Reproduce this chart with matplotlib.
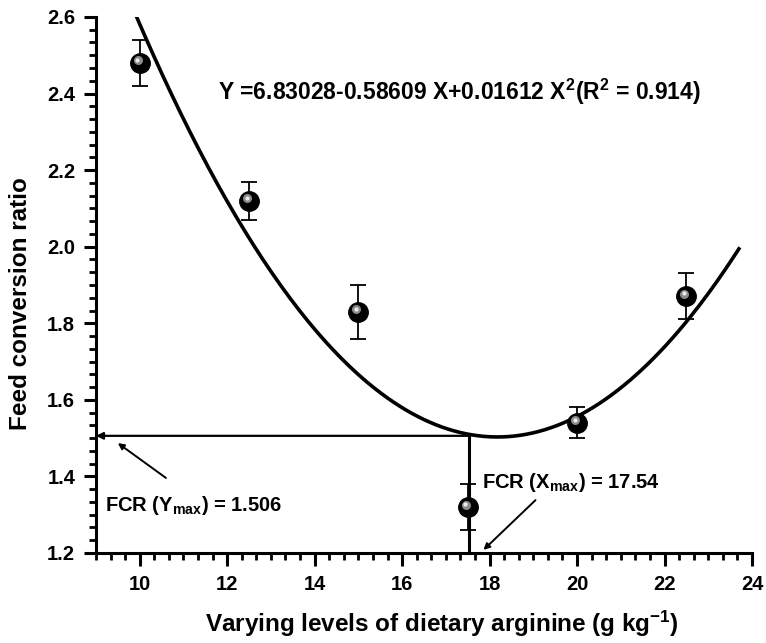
import numpy as np
import matplotlib
matplotlib.use("Agg")
import matplotlib.pyplot as plt
from matplotlib.ticker import MultipleLocator, AutoMinorLocator, FormatStrFormatter
import matplotlib.transforms as mtransforms

plt.rcParams['font.family'] = ['Liberation Sans', 'DejaVu Sans']
plt.rcParams['font.weight'] = 'bold'
plt.rcParams['mathtext.fontset'] = 'custom'
plt.rcParams['mathtext.rm'] = 'Liberation Sans:bold'
plt.rcParams['mathtext.it'] = 'Liberation Sans:bold'
plt.rcParams['mathtext.bf'] = 'Liberation Sans:bold'

# Data
arginine = [10, 12.5, 15, 17.5, 20, 22.5]
fcr = [2.48, 2.12, 1.83, 1.32, 1.54, 1.87]
fcr_err = [0.06, 0.05, 0.07, 0.06, 0.04, 0.06]
coef = [6.83028, -0.58609, 0.01612]   # regression Y = a + bX + cX^2
fit_range = [9.9, 23.7]
x_opt = 17.54
y_opt = 1.506
xticks = [10, 12, 14, 16, 18, 20, 22, 24]

fig = plt.figure(figsize=(7.66, 6.43), dpi=100)
ax = fig.add_axes([0.1253, 0.140, 0.8564, 0.8336])

xs = np.linspace(fit_range[0], fit_range[1], 200)
ys = coef[0] + coef[1] * xs + coef[2] * xs ** 2
ax.plot(xs, ys, color='black', lw=2.6, zorder=2)

ax.errorbar(arginine, fcr, yerr=fcr_err, fmt='none', ecolor='black',
            elinewidth=1.3, capsize=5.5, capthick=1.3, zorder=3)
ax.plot(arginine, fcr, 'o', ms=14, color='black', mec='black', zorder=4)
off1 = mtransforms.offset_copy(ax.transData, fig=fig, x=-2, y=2.5, units='dots')
ax.plot(arginine, fcr, 'o', ms=6.5, color='#8a8a8a', mec='none', zorder=5, transform=off1)
off2 = mtransforms.offset_copy(ax.transData, fig=fig, x=-2.5, y=3, units='dots')
ax.plot(arginine, fcr, 'o', ms=3, color='#ececec', mec='none', zorder=6, transform=off2)

# optimum lines
ax.annotate('', xy=(9.0, y_opt), xytext=(x_opt, y_opt),
            arrowprops=dict(arrowstyle='-|>', color='black', lw=1.6,
                            mutation_scale=10, shrinkA=0, shrinkB=0), zorder=2)
ax.plot([x_opt, x_opt], [y_opt, 1.2], color='black', lw=2.2, zorder=2)

# annotations
ax.annotate('', xy=(9.5, 1.487), xytext=(10.6, 1.396),
            arrowprops=dict(arrowstyle='-|>', color='black', lw=1.4,
                            mutation_scale=9, shrinkA=0, shrinkB=0))
ax.text(9.2, 1.325, 'FCR (Y$_{\\mathregular{max}}$) = 1.506', fontsize=14.5,
        fontweight='bold', va='center', ha='left')
ax.annotate('', xy=(17.86, 1.208), xytext=(19.05, 1.338),
            arrowprops=dict(arrowstyle='-|>', color='black', lw=1.4,
                            mutation_scale=9, shrinkA=0, shrinkB=0))
ax.text(17.83, 1.385, 'FCR (X$_{\\mathregular{max}}$) = 17.54', fontsize=14.5,
        fontweight='bold', va='center', ha='left')

ax.text(11.79, 2.404, 'Y =6.83028-0.58609 X+0.01612 X$^{2}$(R$^{2}$ = 0.914)',
        fontsize=16.5, fontweight='bold', va='center', ha='left')

ax.set_xlim(9, 24)
ax.set_ylim(1.2, 2.6)
ax.xaxis.set_minor_locator(AutoMinorLocator(6))
ax.yaxis.set_major_locator(MultipleLocator(0.2))
ax.yaxis.set_minor_locator(AutoMinorLocator(6))
ax.set_xticks(xticks)
ax.set_xticklabels([str(t) for t in xticks])
ax.xaxis.set_minor_locator(AutoMinorLocator(6))
ax.yaxis.set_major_formatter(FormatStrFormatter('%.1f'))

for s in ['top', 'right']:
    ax.spines[s].set_visible(False)
for s in ['left', 'bottom']:
    ax.spines[s].set_linewidth(2.2)
ax.tick_params(which='major', direction='out', length=9, width=2.2,
               labelsize=14.5)
ax.tick_params(axis='y', which='major', pad=6)
ax.tick_params(axis='x', which='major', pad=7)
ax.tick_params(which='minor', direction='out', length=5, width=2.0)
for lab in ax.get_xticklabels() + ax.get_yticklabels():
    lab.set_fontweight('bold')

ax.set_xlabel('Varying levels of dietary arginine (g kg$^{\\mathregular{-1}}$)',
              fontsize=17.5, fontweight='bold')
ax.xaxis.set_label_coords(0.527, -0.105)
ax.set_ylabel('Feed conversion ratio', fontsize=17.5, fontweight='bold')
ax.yaxis.set_label_coords(-0.097, 0.466)

fig.savefig('out.png', dpi=100)
